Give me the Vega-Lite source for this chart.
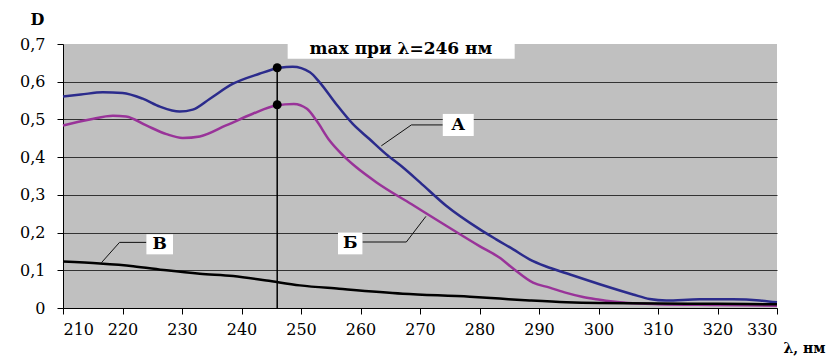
{
  "$schema": "https://vega.github.io/schema/vega-lite/v6.json",
  "width": 714,
  "height": 264,
  "autosize": {"type": "none"},
  "padding": {"left": 63, "top": 44, "right": 59, "bottom": 50},
  "background": "white",
  "config": {
    "view": {"fill": "#c0c0c0", "stroke": null},
    "font": "DejaVu Serif"
  },
  "datasets": {
    "curves": [
      {"s": "A", "l": 210, "d": 0.561}, {"s": "A", "l": 213, "d": 0.566}, {"s": "A", "l": 216.7, "d": 0.572},
      {"s": "A", "l": 220, "d": 0.570}, {"s": "A", "l": 223.4, "d": 0.555}, {"s": "A", "l": 226.3, "d": 0.534},
      {"s": "A", "l": 229.6, "d": 0.521}, {"s": "A", "l": 231.8, "d": 0.526}, {"s": "A", "l": 234.7, "d": 0.555},
      {"s": "A", "l": 238.5, "d": 0.594}, {"s": "A", "l": 243, "d": 0.621}, {"s": "A", "l": 246.4, "d": 0.637},
      {"s": "A", "l": 248.6, "d": 0.640}, {"s": "A", "l": 251.5, "d": 0.625}, {"s": "A", "l": 253.1, "d": 0.599},
      {"s": "A", "l": 255.9, "d": 0.541}, {"s": "A", "l": 258.7, "d": 0.488}, {"s": "A", "l": 261.5, "d": 0.448},
      {"s": "A", "l": 264.3, "d": 0.408}, {"s": "A", "l": 267.1, "d": 0.373}, {"s": "A", "l": 270, "d": 0.333},
      {"s": "A", "l": 274.4, "d": 0.271}, {"s": "A", "l": 280, "d": 0.209}, {"s": "A", "l": 282.8, "d": 0.182},
      {"s": "A", "l": 285.6, "d": 0.156}, {"s": "A", "l": 288.4, "d": 0.129}, {"s": "A", "l": 291.2, "d": 0.110},
      {"s": "A", "l": 294.6, "d": 0.092}, {"s": "A", "l": 300.2, "d": 0.063}, {"s": "A", "l": 305.8, "d": 0.036},
      {"s": "A", "l": 308.6, "d": 0.024}, {"s": "A", "l": 311.4, "d": 0.020}, {"s": "A", "l": 317, "d": 0.023},
      {"s": "A", "l": 322.6, "d": 0.023}, {"s": "A", "l": 327.1, "d": 0.020}, {"s": "A", "l": 330, "d": 0.015},
      {"s": "Б", "l": 210, "d": 0.484}, {"s": "Б", "l": 214.5, "d": 0.500}, {"s": "Б", "l": 218.4, "d": 0.510},
      {"s": "Б", "l": 220.6, "d": 0.508}, {"s": "Б", "l": 224, "d": 0.484}, {"s": "Б", "l": 227.4, "d": 0.461},
      {"s": "Б", "l": 230.1, "d": 0.451}, {"s": "Б", "l": 233, "d": 0.455}, {"s": "Б", "l": 237.4, "d": 0.484},
      {"s": "Б", "l": 241.9, "d": 0.515}, {"s": "Б", "l": 245.8, "d": 0.537}, {"s": "Б", "l": 248.8, "d": 0.541},
      {"s": "Б", "l": 251, "d": 0.528}, {"s": "Б", "l": 252.6, "d": 0.497}, {"s": "Б", "l": 254.8, "d": 0.444},
      {"s": "Б", "l": 257.1, "d": 0.404}, {"s": "Б", "l": 259.3, "d": 0.373}, {"s": "Б", "l": 262.7, "d": 0.333},
      {"s": "Б", "l": 268.6, "d": 0.275}, {"s": "Б", "l": 274.4, "d": 0.218}, {"s": "Б", "l": 280, "d": 0.164},
      {"s": "Б", "l": 283.4, "d": 0.133}, {"s": "Б", "l": 285.7, "d": 0.104}, {"s": "Б", "l": 289, "d": 0.067},
      {"s": "Б", "l": 291.8, "d": 0.054}, {"s": "Б", "l": 294.6, "d": 0.040}, {"s": "Б", "l": 297.4, "d": 0.029},
      {"s": "Б", "l": 300.2, "d": 0.022}, {"s": "Б", "l": 302, "d": 0.018}, {"s": "Б", "l": 305, "d": 0.013},
      {"s": "Б", "l": 310, "d": 0.010}, {"s": "Б", "l": 320, "d": 0.008}, {"s": "Б", "l": 330, "d": 0.006},
      {"s": "В", "l": 210, "d": 0.123}, {"s": "В", "l": 216.2, "d": 0.118}, {"s": "В", "l": 221.8, "d": 0.111},
      {"s": "В", "l": 227.4, "d": 0.100}, {"s": "В", "l": 233, "d": 0.091}, {"s": "В", "l": 238.6, "d": 0.085},
      {"s": "В", "l": 244.2, "d": 0.073}, {"s": "В", "l": 249.8, "d": 0.060}, {"s": "В", "l": 256.4, "d": 0.051},
      {"s": "В", "l": 267.1, "d": 0.038}, {"s": "В", "l": 278.4, "d": 0.030}, {"s": "В", "l": 283.4, "d": 0.025},
      {"s": "В", "l": 288.4, "d": 0.020}, {"s": "В", "l": 294.6, "d": 0.015}, {"s": "В", "l": 300, "d": 0.013},
      {"s": "В", "l": 310, "d": 0.012}, {"s": "В", "l": 320, "d": 0.011}, {"s": "В", "l": 330, "d": 0.010}
    ],
    "maxline": [{"l": 246, "d": 0, "d2": 0.637}],
    "dots": [{"l": 246, "d": 0.637}, {"l": 246, "d": 0.539}],
    "leaders": [
      {"g": "A", "o": 1, "l": 273.83, "d": 0.4854}, {"g": "A", "o": 2, "l": 268.55, "d": 0.4854}, {"g": "A", "o": 3, "l": 263.5, "d": 0.43},
      {"g": "Б", "o": 1, "l": 260.32, "d": 0.175}, {"g": "Б", "o": 2, "l": 267.7, "d": 0.175}, {"g": "Б", "o": 3, "l": 271.0, "d": 0.243},
      {"g": "В", "o": 1, "l": 224.02, "d": 0.174}, {"g": "В", "o": 2, "l": 219.5, "d": 0.174}, {"g": "В", "o": 3, "l": 216.45, "d": 0.12}
    ],
    "boxes": [
      {"l": 247.76, "l2": 285.91, "d": 0.7141, "d2": 0.6609},
      {"l": 273.83, "l2": 279.03, "d": 0.5146, "d2": 0.4561},
      {"l": 256.22, "l2": 260.32, "d": 0.2, "d2": 0.1423},
      {"l": 224.02, "l2": 228.49, "d": 0.1955, "d2": 0.1423}
    ],
    "labels": [
      {"t": "max при λ=246 нм", "l": 266.8, "d": 0.6875},
      {"t": "А", "l": 276.4, "d": 0.4854},
      {"t": "Б", "l": 258.27, "d": 0.1715},
      {"t": "В", "l": 226.27, "d": 0.169}
    ]
  },
  "encoding": {
    "x": {
      "field": "l", "type": "quantitative",
      "scale": {"domain": [210, 330], "nice": false, "zero": false},
      "axis": {
        "values": [210, 220, 230, 240, 250, 260, 270, 280, 290, 300, 310, 320, 330],
        "grid": false,
        "domainColor": "black", "domainWidth": 1,
        "tickColor": "black", "tickSize": 6,
        "labelFont": "DejaVu Serif", "labelFontSize": 16, "labelColor": "black", "labelPadding": 7,
        "title": "λ, нм",
        "titleFont": "DejaVu Serif", "titleFontSize": 14, "titleFontWeight": "bold", "titleColor": "black",
        "titleAngle": 0, "titleX": 741, "titleY": 40, "titleBaseline": "middle", "titleAlign": "center"
      }
    },
    "y": {
      "field": "d", "type": "quantitative",
      "scale": {"domain": [0, 0.7], "nice": false},
      "axis": {
        "values": [0, 0.1, 0.2, 0.3, 0.4, 0.5, 0.6, 0.7],
        "labelExpr": "datum.value == 0 ? '0' : replace(format(datum.value, '.1f'), '.', ',')",
        "grid": true,
        "gridColor": {"condition": {"test": "datum.value >= 0.69", "value": "transparent"}, "value": "#333333"},
        "gridWidth": 1,
        "domainColor": "black", "domainWidth": 1,
        "tickColor": "black", "tickSize": 6,
        "labelFont": "DejaVu Serif", "labelFontSize": 16, "labelColor": "black", "labelPadding": 12,
        "title": "D",
        "titleFont": "DejaVu Serif", "titleFontSize": 16, "titleFontWeight": "bold", "titleColor": "black",
        "titleAngle": 0, "titleX": -26, "titleY": -25, "titleBaseline": "middle", "titleAlign": "center"
      }
    }
  },
  "layer": [
    {
      "data": {"name": "curves"},
      "mark": {"type": "line", "interpolate": "monotone", "strokeWidth": 2.5},
      "encoding": {
        "color": {
          "field": "s", "type": "nominal",
          "scale": {"domain": ["A", "Б", "В"], "range": ["#2b2b8c", "#993399", "#000000"]},
          "legend": null
        }
      }
    },
    {
      "data": {"name": "maxline"},
      "mark": {"type": "rule", "color": "black", "strokeWidth": 1.5},
      "encoding": {"y2": {"field": "d2"}}
    },
    {
      "data": {"name": "dots"},
      "mark": {"type": "point", "filled": true, "color": "black", "size": 80, "opacity": 1},
      "encoding": {}
    },
    {
      "data": {"name": "leaders"},
      "mark": {"type": "line", "color": "#111111", "strokeWidth": 1},
      "encoding": {"detail": {"field": "g"}, "order": {"field": "o"}}
    },
    {
      "data": {"name": "boxes"},
      "mark": {"type": "rect", "fill": "white", "stroke": null},
      "encoding": {"x2": {"field": "l2"}, "y2": {"field": "d2"}}
    },
    {
      "data": {"name": "labels"},
      "mark": {"type": "text", "font": "DejaVu Serif", "fontWeight": "bold", "fontSize": 17, "color": "black", "align": "center", "baseline": "middle"},
      "encoding": {"text": {"field": "t"}}
    }
  ]
}
